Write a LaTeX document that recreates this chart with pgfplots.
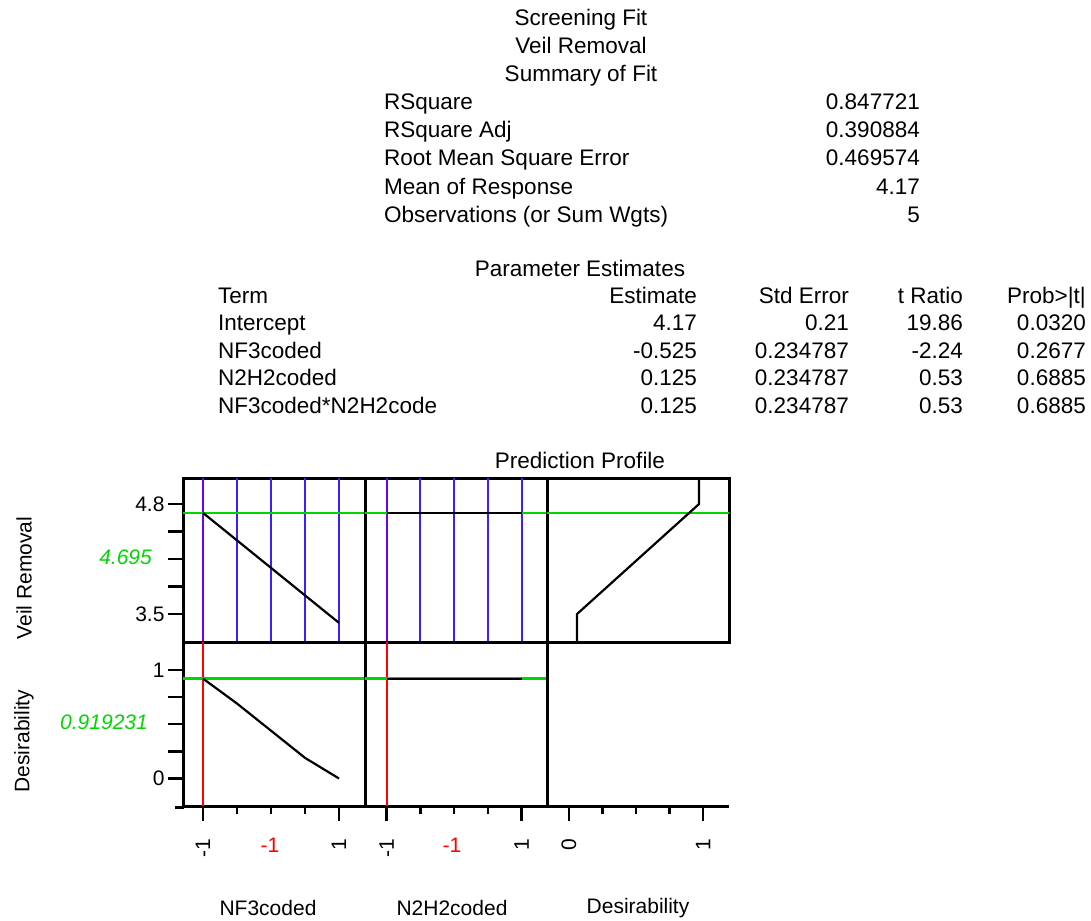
\documentclass[border=0pt]{standalone}
\usepackage{fontspec}
\setmainfont{Liberation Sans}
\usepackage{pgfplots}
\pgfplotsset{compat=1.18}
\definecolor{jgreen}{RGB}{0,215,0}
\definecolor{jblue}{RGB}{60,30,255}
\definecolor{jpurple}{RGB}{110,0,235}
\definecolor{jred}{RGB}{255,0,0}
\newcommand{\bigf}{\fontsize{22.5}{27}\selectfont}
\newcommand{\plotf}{\fontsize{21}{25}\selectfont}
\pgfplotsset{
  panel/.style={scale only axis, width=182pt, height=164pt, anchor=north west,
    axis line style={line width=3pt, -}, clip=true,
    tick style={black, line width=2.5pt},
    tick align=outside, xtick pos=bottom, ytick pos=left,
    major tick length=15pt, minor tick length=8pt,
    ticklabel style={font=\plotf},
    /pgf/number format/assume math mode=true,
    xticklabel style={yshift=-14pt, rotate=90, anchor=east},
  },
  toprow/.style={ymin=3.169, ymax=5.107, xtick=\empty},
  botrow/.style={ymin=-0.253, ymax=1.256},
  colA/.style={xmin=-1.294, xmax=1.382},
  colB/.style={xmin=-1.32, xmax=1.375},
  colC/.style={xmin=-0.163, xmax=1.193},
  vl/.style={jblue, line width=2.2pt},
  gl/.style={jgreen, line width=2.4pt},
  kl/.style={black, line width=2.2pt},
}
\begin{document}
\begin{tikzpicture}
\useasboundingbox (0pt,0pt) rectangle (1091pt,-920pt);
% ---------- top row ----------
\begin{axis}[panel, toprow, colA, at={(183pt,-478pt)},
  ytick={3.5,3.825,4.15,4.475,4.8}, yticklabels={3.5,,,,4.8}]
\addplot[vl] coordinates {(-0.5,3.169) (-0.5,5.107)};
\addplot[vl] coordinates {(0,3.169) (0,5.107)};
\addplot[vl] coordinates {(0.5,3.169) (0.5,5.107)};
\addplot[vl] coordinates {(1,3.169) (1,5.107)};
\addplot[jpurple, line width=2.2pt] coordinates {(-1,3.169) (-1,5.107)};
\addplot[gl] coordinates {(-1.294,4.695) (1.382,4.695)};
\addplot[kl] coordinates {(-1,4.695) (1,3.395)};
\end{axis}
\begin{axis}[panel, toprow, colB, at={(365pt,-478pt)}, ytick=\empty]
\addplot[vl] coordinates {(-0.5,3.169) (-0.5,5.107)};
\addplot[vl] coordinates {(0,3.169) (0,5.107)};
\addplot[vl] coordinates {(0.5,3.169) (0.5,5.107)};
\addplot[vl] coordinates {(1,3.169) (1,5.107)};
\addplot[jpurple, line width=2.2pt] coordinates {(-1,3.169) (-1,5.107)};
\addplot[gl] coordinates {(-1.32,4.695) (1.375,4.695)};
\addplot[kl] coordinates {(-1,4.695) (1,4.695)};
\end{axis}
\begin{axis}[panel, toprow, colC, at={(547pt,-478pt)}, ytick=\empty]
\addplot[gl] coordinates {(-0.163,4.695) (1.193,4.695)};
\addplot[kl] coordinates {(0.061,3.169) (0.061,3.5) (0.97,4.8) (0.97,5.107)};
\end{axis}
% ---------- bottom row ----------
\begin{axis}[panel, botrow, colA, at={(183pt,-642pt)},
  ytick={0,0.25,0.5,0.75,1}, yticklabels={0,,,,1},
  xtick={-1,1}, xticklabels={-1,1}, minor xtick={-0.5,0,0.5}]
\addplot[jred, line width=2.2pt] coordinates {(-1,-0.253) (-1,1.256)};
\addplot[gl] coordinates {(-1.294,0.919231) (1.382,0.919231)};
\addplot[kl] coordinates {(-1,0.919231) (-0.5,0.69) (0,0.44) (0.5,0.19) (1,0)};
\end{axis}
\begin{axis}[panel, botrow, colB, at={(365pt,-642pt)}, ytick=\empty,
  xtick={-1,1}, xticklabels={-1,1}, minor xtick={-0.5,0,0.5}]
\addplot[jred, line width=2.2pt] coordinates {(-1,-0.253) (-1,1.256)};
\addplot[gl] coordinates {(-1.32,0.919231) (1.375,0.919231)};
\addplot[kl] coordinates {(-1,0.919231) (1,0.919231)};
\end{axis}
\begin{axis}[panel, botrow, colC, at={(547pt,-642pt)}, ytick=\empty,
  axis x line*=bottom, axis y line*=left,
  xtick={0,1}, xticklabels={0,1}, minor xtick={0.25,0.5,0.75}]
\addplot[draw=none] coordinates {(0,0) (1,1)};
\end{axis}
\draw[line width=3pt] (175pt,-807pt) -- (184pt,-807pt);
% ---------- texts ----------
\begin{scope}[every node/.style={font=\bigf, inner sep=0pt}]
\node[anchor=base] at (581pt,-26pt) {Screening Fit};
\node[anchor=base] at (581pt,-54pt) {Veil Removal};
\node[anchor=base] at (581pt,-82pt) {Summary of Fit};
\node[anchor=base west] at (384pt,-110pt) {RSquare};
\node[anchor=base west] at (384pt,-138pt) {RSquare Adj};
\node[anchor=base west] at (384pt,-166pt) {Root Mean Square Error};
\node[anchor=base west] at (384pt,-194pt) {Mean of Response};
\node[anchor=base west] at (384pt,-222pt) {Observations (or Sum Wgts)};
\node[anchor=base east] at (920pt,-110pt) {0.847721};
\node[anchor=base east] at (920pt,-138pt) {0.390884};
\node[anchor=base east] at (920pt,-166pt) {0.469574};
\node[anchor=base east] at (920pt,-194pt) {4.17};
\node[anchor=base east] at (920pt,-222pt) {5};
\node[anchor=base] at (580pt,-276pt) {Parameter Estimates};
\node[anchor=base west] at (218pt,-303pt) {Term};
\node[anchor=base west] at (218pt,-330.5pt) {Intercept};
\node[anchor=base west] at (218pt,-358pt) {NF3coded};
\node[anchor=base west] at (218pt,-385.5pt) {N2H2coded};
\node[anchor=base west] at (218pt,-413pt) {NF3coded*N2H2code};
\node[anchor=base east] at (697pt,-303pt) {Estimate};
\node[anchor=base east] at (697pt,-330.5pt) {4.17};
\node[anchor=base east] at (697pt,-358pt) {-0.525};
\node[anchor=base east] at (697pt,-385.5pt) {0.125};
\node[anchor=base east] at (697pt,-413pt) {0.125};
\node[anchor=base east] at (849pt,-303pt) {Std Error};
\node[anchor=base east] at (849pt,-330.5pt) {0.21};
\node[anchor=base east] at (849pt,-358pt) {0.234787};
\node[anchor=base east] at (849pt,-385.5pt) {0.234787};
\node[anchor=base east] at (849pt,-413pt) {0.234787};
\node[anchor=base east] at (963pt,-303pt) {t Ratio};
\node[anchor=base east] at (963pt,-330.5pt) {19.86};
\node[anchor=base east] at (963pt,-358pt) {-2.24};
\node[anchor=base east] at (963pt,-385.5pt) {0.53};
\node[anchor=base east] at (963pt,-413pt) {0.53};
\node[anchor=base east] at (1086pt,-303pt) {Prob>|t|};
\node[anchor=base east] at (1086pt,-330.5pt) {0.0320};
\node[anchor=base east] at (1086pt,-358pt) {0.2677};
\node[anchor=base east] at (1086pt,-385.5pt) {0.6885};
\node[anchor=base east] at (1086pt,-413pt) {0.6885};
\node[anchor=base] at (580pt,-468pt) {Prediction Profile};
\end{scope}
\begin{scope}[every node/.style={font=\plotf, inner sep=0pt}]
\node[rotate=90] at (24pt,-578pt) {Veil Removal};
\node[rotate=90] at (24pt,-741pt) {Desirability};
\node[anchor=east, text=jgreen, font=\plotf\itshape] at (152pt,-557pt) {4.695};
\node[anchor=east, text=jgreen, font=\plotf\itshape] at (148pt,-722pt) {0.919231};
\node[text=jred] at (270pt,-845pt) {-1};
\node[text=jred] at (452pt,-845pt) {-1};
\node at (268pt,-908pt) {NF3coded};
\node at (452pt,-908pt) {N2H2coded};
\node at (638pt,-908pt) {Desirability};
\end{scope}
\end{tikzpicture}
\end{document}
